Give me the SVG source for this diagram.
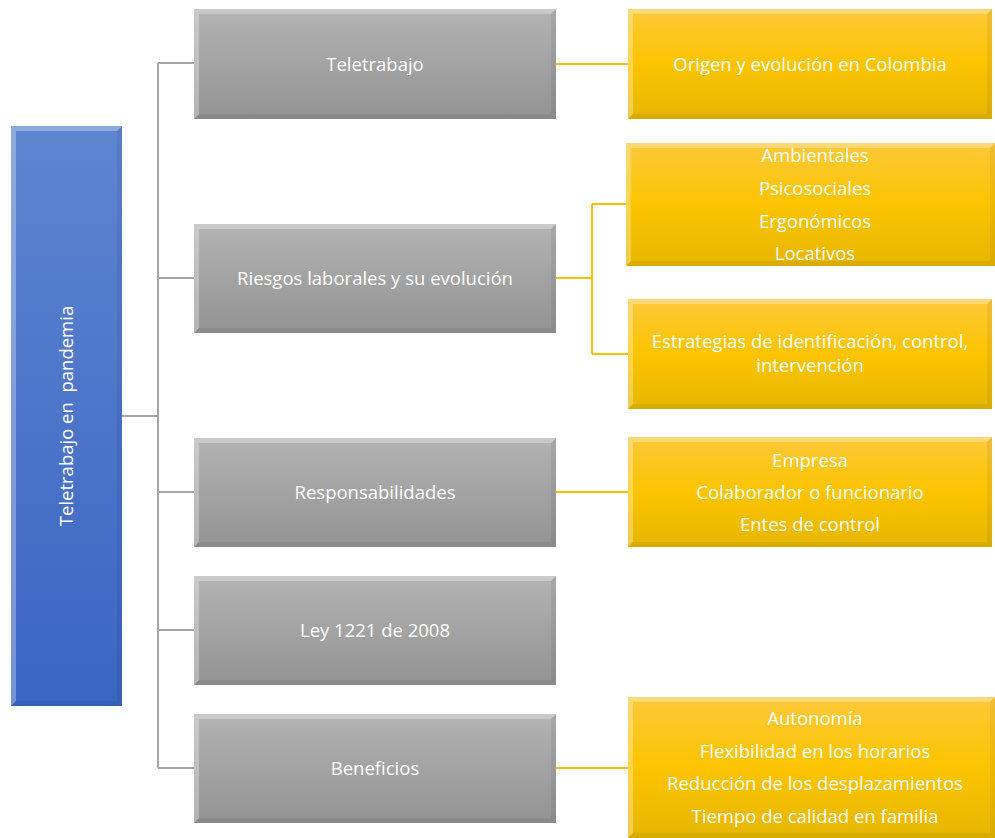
<svg xmlns="http://www.w3.org/2000/svg" width="995" height="838" viewBox="0 0 995 838">
<defs>
<linearGradient id="gGray" x1="0" y1="0" x2="0" y2="1"><stop offset="0" stop-color="#b3b3b3"/><stop offset="1" stop-color="#939393"/></linearGradient>
<linearGradient id="gYel" x1="0" y1="0" x2="0" y2="1"><stop offset="0" stop-color="#fdc93a"/><stop offset="0.5" stop-color="#fcc400"/><stop offset="1" stop-color="#e6b600"/></linearGradient>
<linearGradient id="gBlue" x1="0" y1="0" x2="0" y2="1"><stop offset="0" stop-color="#5e85d0"/><stop offset="1" stop-color="#3a65c3"/></linearGradient>
</defs>
<style>
.t{font-family:"Open Sans","Noto Sans","Liberation Sans",sans-serif;font-size:18.5px;fill:#ffffff;text-anchor:middle;dominant-baseline:central}
.cg{stroke:#a6a6a6;stroke-width:2;fill:none}
.cy{stroke:#fcc000;stroke-width:2;fill:none}
.hl{fill:#ffffff;opacity:0.3}
.sh{fill:#000000;opacity:0.06}
</style>
<g id="connectors">
<path class="cg" d="M122 416H158M158 63V768M158 63H194M158 278H194M158 492H194M158 630H194M158 768H194"/>
<path class="cy" d="M556 64H628"/>
<path class="cy" d="M556 278H592M592 204V354M592 204H626M592 354H628"/>
<path class="cy" d="M556 492H628"/>
<path class="cy" d="M556 768H628"/>
</g>
<g id="root">
<rect x="11" y="126" width="111" height="580" fill="url(#gBlue)"/>
<polygon class="hl" points="11,126 122,126 117,131 16,131 16,701 11,706"/>
<polygon class="sh" points="122,126 122,706 11,706 16,701 117,701 117,131"/>
<text class="t" transform="translate(65 416) rotate(-90)" xml:space="preserve">Teletrabajo en  pandemia</text>
</g>
<g id="n1">
<rect x="194" y="9" width="362" height="110" fill="url(#gGray)"/>
<polygon class="hl" points="194,9 556,9 551,14 199,14 199,114 194,119"/>
<polygon class="sh" points="556,9 556,119 194,119 199,114 551,114 551,14"/>
<text class="t" x="375" y="63">Teletrabajo</text>
</g>
<g id="n2">
<rect x="194" y="224" width="362" height="109" fill="url(#gGray)"/>
<polygon class="hl" points="194,224 556,224 551,229 199,229 199,328 194,333"/>
<polygon class="sh" points="556,224 556,333 194,333 199,328 551,328 551,229"/>
<text class="t" x="375" y="277">Riesgos laborales y su evolución</text>
</g>
<g id="n3">
<rect x="194" y="438" width="362" height="109" fill="url(#gGray)"/>
<polygon class="hl" points="194,438 556,438 551,443 199,443 199,542 194,547"/>
<polygon class="sh" points="556,438 556,547 194,547 199,542 551,542 551,443"/>
<text class="t" x="375" y="491">Responsabilidades</text>
</g>
<g id="n4">
<rect x="194" y="576" width="362" height="109" fill="url(#gGray)"/>
<polygon class="hl" points="194,576 556,576 551,581 199,581 199,680 194,685"/>
<polygon class="sh" points="556,576 556,685 194,685 199,680 551,680 551,581"/>
<text class="t" x="375" y="629">Ley 1221 de 2008</text>
</g>
<g id="n5">
<rect x="194" y="714" width="362" height="109" fill="url(#gGray)"/>
<polygon class="hl" points="194,714 556,714 551,719 199,719 199,818 194,823"/>
<polygon class="sh" points="556,714 556,823 194,823 199,818 551,818 551,719"/>
<text class="t" x="375" y="767">Beneficios</text>
</g>
<g id="y1">
<rect x="628" y="9" width="364" height="110" fill="url(#gYel)"/>
<polygon class="hl" points="628,9 992,9 987,14 633,14 633,114 628,119"/>
<polygon class="sh" points="992,9 992,119 628,119 633,114 987,114 987,14"/>
<text class="t" x="810" y="63">Origen y evolución en Colombia</text>
</g>
<g id="y2">
<rect x="626" y="143" width="369" height="123" fill="url(#gYel)"/>
<polygon class="hl" points="626,143 995,143 990,148 631,148 631,261 626,266"/>
<polygon class="sh" points="995,143 995,266 626,266 631,261 990,261 990,148"/>
<text class="t" x="815" y="154">Ambientales</text>
<text class="t" x="815" y="187">Psicosociales</text>
<text class="t" x="815" y="220">Ergonómicos</text>
<text class="t" x="815" y="252">Locativos</text>
</g>
<g id="y3">
<rect x="628" y="299" width="364" height="110" fill="url(#gYel)"/>
<polygon class="hl" points="628,299 992,299 987,304 633,304 633,404 628,409"/>
<polygon class="sh" points="992,299 992,409 628,409 633,404 987,404 987,304"/>
<text class="t" x="810" y="340">Estrategias de identificación, control,</text>
<text class="t" x="810" y="364">intervención</text>
</g>
<g id="y4">
<rect x="628" y="437" width="364" height="110" fill="url(#gYel)"/>
<polygon class="hl" points="628,437 992,437 987,442 633,442 633,542 628,547"/>
<polygon class="sh" points="992,437 992,547 628,547 633,542 987,542 987,442"/>
<text class="t" x="810" y="459">Empresa</text>
<text class="t" x="810" y="491">Colaborador o funcionario</text>
<text class="t" x="810" y="523">Entes de control</text>
</g>
<g id="y5">
<rect x="628" y="697" width="367" height="141" fill="url(#gYel)"/>
<polygon class="hl" points="628,697 995,697 990,702 633,702 633,833 628,838"/>
<polygon class="sh" points="995,697 995,838 628,838 633,833 990,833 990,702"/>
<text class="t" x="815" y="717">Autonomía</text>
<text class="t" x="815" y="750">Flexibilidad en los horarios</text>
<text class="t" x="815" y="782">Reducción de los desplazamientos</text>
<text class="t" x="815" y="815">Tiempo de calidad en familia</text>
</g>
</svg>
